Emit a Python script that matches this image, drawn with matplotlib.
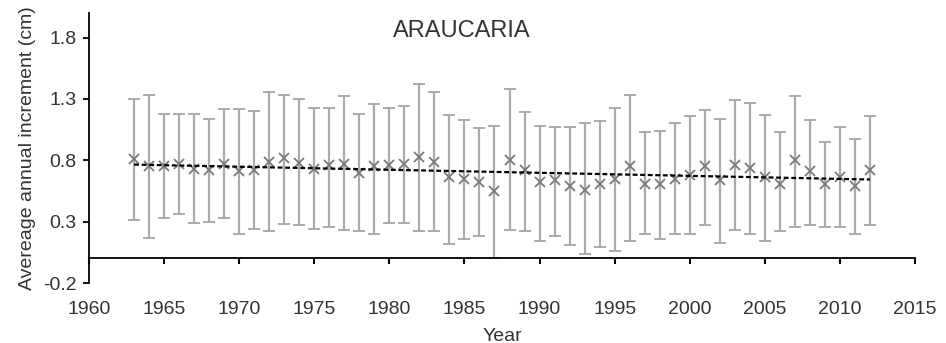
import numpy as np
import matplotlib
matplotlib.use("Agg")
import matplotlib.pyplot as plt

plt.rcParams['font.family'] = ['Liberation Sans', 'DejaVu Sans']

years = list(range(1963, 2013))
means = [0.81, 0.75, 0.75, 0.77, 0.73, 0.72, 0.77, 0.71, 0.72, 0.79,
         0.82, 0.78, 0.73, 0.76, 0.77, 0.70, 0.75, 0.76, 0.77, 0.83,
         0.79, 0.66, 0.65, 0.62, 0.55, 0.80, 0.72, 0.62, 0.64, 0.59,
         0.56, 0.61, 0.65, 0.75, 0.61, 0.61, 0.65, 0.68, 0.75, 0.64,
         0.76, 0.74, 0.66, 0.61, 0.80, 0.71, 0.61, 0.66, 0.59, 0.72]
upper = [1.30, 1.33, 1.18, 1.18, 1.18, 1.14, 1.22, 1.22, 1.20, 1.36,
         1.33, 1.30, 1.23, 1.23, 1.32, 1.18, 1.26, 1.23, 1.24, 1.42,
         1.36, 1.17, 1.13, 1.06, 1.08, 1.38, 1.19, 1.08, 1.07, 1.07,
         1.10, 1.12, 1.23, 1.33, 1.03, 1.04, 1.10, 1.16, 1.21, 1.14,
         1.29, 1.27, 1.17, 1.03, 1.32, 1.13, 0.95, 1.07, 0.97, 1.16]
lower = [0.31, 0.17, 0.33, 0.36, 0.29, 0.30, 0.33, 0.20, 0.24, 0.22,
         0.28, 0.27, 0.24, 0.26, 0.23, 0.22, 0.20, 0.29, 0.29, 0.22,
         0.22, 0.12, 0.16, 0.18, 0.00, 0.23, 0.22, 0.14, 0.18, 0.11,
         0.04, 0.09, 0.06, 0.14, 0.20, 0.16, 0.20, 0.20, 0.27, 0.13,
         0.23, 0.20, 0.14, 0.22, 0.26, 0.27, 0.26, 0.26, 0.20, 0.27]
x_ticks = [1960, 1965, 1970, 1975, 1980, 1985, 1990, 1995, 2000, 2005, 2010, 2015]
y_ticks = [-0.2, 0.3, 0.8, 1.3, 1.8]
title = "ARAUCARIA"
xlabel = "Year"
ylabel = "Avereage annual increment (cm)"

yrs = np.array(years, dtype=float)
m = np.array(means)
yerr = np.vstack([m - np.array(lower), np.array(upper) - m])

fig = plt.figure(figsize=(9.46, 3.43), dpi=100)
ax = fig.add_axes([89/946, (343-283)/343, (915-89)/946, (283-13)/343])

ax.errorbar(yrs, m, yerr=yerr, fmt='none', ecolor='#ababab', elinewidth=1.6,
            capsize=4.5, capthick=1.4, zorder=2)
ax.plot(yrs, m, linestyle='none', marker='x', markersize=7, mew=1.3,
        color='#7a7a7a', zorder=3)

coef = np.polyfit(yrs, m, 1)
ax.plot(yrs, np.polyval(coef, yrs), color='black', linestyle=(0, (2.2, 1.2)),
        linewidth=1.6, zorder=4)

ax.set_xlim(1960, 2015)
ax.set_ylim(-0.2, 2.0)
ax.set_xticks(x_ticks)
ax.set_yticks(y_ticks)
ax.set_yticklabels([f"{v:.1f}" for v in y_ticks])

ax.spines['top'].set_visible(False)
ax.spines['right'].set_visible(False)
ax.spines['bottom'].set_position(('data', 0))
for s in ('left', 'bottom'):
    ax.spines[s].set_linewidth(1.3)
    ax.spines[s].set_color('black')

ax.tick_params(axis='x', direction='out', length=4, width=1.5, pad=26.5,
               labelsize=14, colors='black', labelcolor='#333333')
ax.tick_params(axis='y', direction='out', length=4, width=1.3, pad=5,
               labelsize=14, colors='black', labelcolor='#333333')

ax.set_xlabel(xlabel, fontsize=14, color='#333333')
ax.xaxis.set_label_coords(0.5, -0.165)
ax.set_ylabel(ylabel, fontsize=14, color='#333333', labelpad=5)
ax.text(0.4516, 0.933, title, transform=ax.transAxes, ha='center', va='center',
        fontsize=17, color='#333333')

fig.savefig("out.png", dpi=100)
